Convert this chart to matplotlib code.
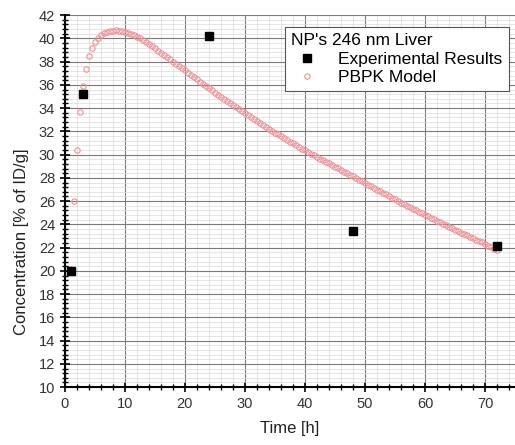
import matplotlib
matplotlib.use('Agg')
import matplotlib.pyplot as plt
from matplotlib.ticker import MultipleLocator

plt.rcParams['font.family'] = ['Liberation Sans', 'DejaVu Sans']

exp_t = [1, 3, 24, 48, 72]
exp_c = [20.0, 35.2, 40.2, 23.4, 22.1]

# PBPK model curve (every 0.5 h)
model_t = [
    1.0, 1.5, 2.0, 2.5, 3.0, 3.5, 4.0, 4.5, 5.0, 5.5, 6.0, 6.5, 7.0, 7.5, 8.0, 8.5, 9.0, 9.5,
    10.0, 10.5, 11.0, 11.5, 12.0, 12.5, 13.0, 13.5, 14.0, 14.5, 15.0, 15.5, 16.0, 16.5, 17.0, 17.5,
    18.0, 18.5, 19.0, 19.5, 20.0, 20.5, 21.0, 21.5, 22.0, 22.5, 23.0, 23.5, 24.0, 24.5, 25.0, 25.5,
    26.0, 26.5, 27.0, 27.5, 28.0, 28.5, 29.0, 29.5, 30.0, 30.5, 31.0, 31.5, 32.0, 32.5, 33.0, 33.5,
    34.0, 34.5, 35.0, 35.5, 36.0, 36.5, 37.0, 37.5, 38.0, 38.5, 39.0, 39.5, 40.0, 40.5, 41.0, 41.5,
    42.0, 42.5, 43.0, 43.5, 44.0, 44.5, 45.0, 45.5, 46.0, 46.5, 47.0, 47.5, 48.0, 48.5, 49.0, 49.5,
    50.0, 50.5, 51.0, 51.5, 52.0, 52.5, 53.0, 53.5, 54.0, 54.5, 55.0, 55.5, 56.0, 56.5, 57.0, 57.5,
    58.0, 58.5, 59.0, 59.5, 60.0, 60.5, 61.0, 61.5, 62.0, 62.5, 63.0, 63.5, 64.0, 64.5, 65.0, 65.5,
    66.0, 66.5, 67.0, 67.5, 68.0, 68.5, 69.0, 69.5, 70.0, 70.5, 71.0, 71.5, 72.0,
]
model_c = [
    20.2, 26.0, 30.4, 33.7, 35.9, 37.4, 38.5, 39.2, 39.7, 40.05, 40.3, 40.45, 40.55, 40.62, 40.66, 40.68, 40.67, 40.64,
    40.58, 40.5, 40.4, 40.28, 40.15, 40.0, 39.84, 39.67, 39.5, 39.32, 39.14, 38.95, 38.76, 38.57, 38.38, 38.19,
    38.0, 37.81, 37.62, 37.43, 37.24, 37.05, 36.86, 36.67, 36.48, 36.29, 36.1, 35.91, 35.72, 35.53, 35.34, 35.16,
    34.98, 34.8, 34.62, 34.44, 34.26, 34.08, 33.9, 33.72, 33.55, 33.38, 33.21, 33.04, 32.87, 32.7, 32.54, 32.38,
    32.22, 32.06, 31.9, 31.74, 31.58, 31.42, 31.27, 31.12, 30.97, 30.82, 30.67, 30.52, 30.37, 30.22, 30.08, 29.94,
    29.8, 29.66, 29.52, 29.38, 29.24, 29.1, 28.96, 28.82, 28.68, 28.54, 28.4, 28.26, 28.12, 27.98, 27.84, 27.7,
    27.56, 27.42, 27.28, 27.14, 27.0, 26.86, 26.72, 26.58, 26.44, 26.3, 26.16, 26.02, 25.88, 25.74, 25.61, 25.48,
    25.35, 25.22, 25.09, 24.96, 24.83, 24.7, 24.57, 24.44, 24.31, 24.18, 24.05, 23.92, 23.79, 23.66, 23.54, 23.42,
    23.3, 23.18, 23.06, 22.94, 22.82, 22.7, 22.58, 22.46, 22.32, 22.18, 22.04, 21.9, 21.76,
]

fig = plt.figure(figsize=(5.15, 4.45), dpi=100)
ax = fig.add_axes([0.126, 0.130, 0.874, 0.836])

ax.plot(model_t, model_c, linestyle='none', marker='o', markersize=3.9,
        markerfacecolor='none', markeredgecolor='#ee9094', markeredgewidth=0.8,
        label='PBPK Model', zorder=3)
ax.plot(exp_t, exp_c, linestyle='none', marker='s', markersize=5.8,
        color='black', label='Experimental Results', zorder=4)

ax.set_xlim(0, 75)
ax.set_ylim(10, 42)
ax.xaxis.set_major_locator(MultipleLocator(10))
ax.xaxis.set_minor_locator(MultipleLocator(2))
ax.yaxis.set_major_locator(MultipleLocator(2))
ax.yaxis.set_minor_locator(MultipleLocator(0.4))

ax.grid(which='major', color='#7a7a7a', linewidth=0.8)
ax.grid(which='minor', color='#dadada', linewidth=0.5)
ax.set_axisbelow(True)

for s in ['top', 'right']:
    ax.spines[s].set_visible(False)
for s in ['left', 'bottom']:
    ax.spines[s].set_linewidth(1.5)

ax.tick_params(which='major', direction='inout', length=7, width=1.2,
               labelsize=10.5, labelcolor='#333333')
ax.tick_params(which='minor', direction='inout', length=4, width=1)

ax.set_xlabel('Time [h]', fontsize=12, color='#222222', labelpad=7)
ax.set_ylabel('Concentration [% of ID/g]', fontsize=12, color='#222222')
ax.yaxis.set_label_coords(-0.08, 0.39)

handles, labels = ax.get_legend_handles_labels()
leg = ax.legend(handles[::-1], labels[::-1], title="NP's 246 nm Liver",
                loc='upper right', bbox_to_anchor=(0.986, 0.968), borderaxespad=0,
                fontsize=12.5, title_fontsize=12.5, fancybox=False,
                edgecolor='#555555', framealpha=1, handletextpad=0.9,
                handlelength=1.8, labelspacing=0.2, borderpad=0.35)
leg._legend_box.align = 'left'
leg.get_frame().set_linewidth(0.8)

fig.savefig('out.png', dpi=100)
